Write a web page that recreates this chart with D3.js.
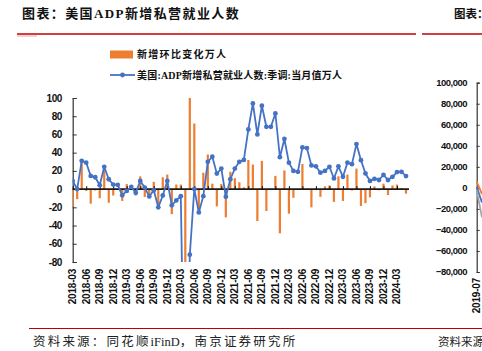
<!DOCTYPE html>
<html>
<head>
<meta charset="utf-8">
<script src="https://cdn.jsdelivr.net/npm/d3@7"></script>
<style>
  body { margin: 0; background: #fff; }
  svg { display: block; }
</style>
</head>
<body>
<div id="chart"></div>
<script>
// months 2018-03 .. 2024-05
const months = d3.timeMonth.range(new Date(2018, 2, 1), new Date(2024, 5, 1)).map(d3.timeFormat("%Y-%m"));

// 美国:ADP新增私营就业人数:季调:当月值 (万人)
const adpValues = [
  9, 0, 31, 29, 14.5, 13, 4.3, 24.5, 10.8, 5, 4.7, -6.8,
  -2, 2.5, -4, 9, 1.7, -8, -1.3, -20, -7, 9, -17.8, -12.4,
  -7.7, -300, -72, 0, -25.6, -7.7, 30, 35.5, 17, 22.5, -8.4, 10.8,
  22.5, 30, 32, 65.5, 94, 60, 91.5, 68.4, 68.4, 83, 35, 55,
  29, 20, 19, 45.8, 45, 26, 25, 18, 20, 24.5, 11.7, 25,
  13.5, 29, 27.4, 49.4, 31.8, 17.2, 9, 11.3, 10, 15.7, 10, 13.5,
  18.7, 19, 14.3
];

// 新增环比变化 (万人)
const changeValues = [
  -19, -11, 31, -2, -16, -1.5, -10, 23, -15, -7, -0.5, -13,
  5.5, 4.5, -7, 14, -8.5, -10, 8, -22, 13, 16, -27.5, 5,
  5, -292, 228, 72, -25.6, 18, 38, 6, -19, 5.5, -31, 19,
  12, 7.5, 2, 32, 27, -35, 31, -24, -1, 14.5, -48.5, 20.5,
  -27, -9.5, -1, 27.5, -1, -20, -1, -8.5, 3, 4, -14, 14,
  -13, 16, -1.6, 22.5, -18.5, -15.5, -9, 3, -1.3, 6, -6.5, 4,
  5, 1, -5
];

const yTicks = [100, 80, 60, 40, 20, 0, -20, -40, -60, -80];

// neighbouring (cut off) panel on the right
const rightMonths = ["2019-07", "2019-08"];
const rightSeries = [
  {color: "#ED7D31", values: [6000, -6000]},
  {color: "#4472C4", values: [1000, -14000]},
  {color: "#A5A5A5", values: [-2400, -28000]}
];
const rightTicks = [100000, 80000, 60000, 40000, 20000, 0, -20000, -40000, -60000, -80000];

const W = 482, H = 351;
const orange = "#ED7D31", blue = "#4472C4";
const cjk = "'Liberation Serif', 'Noto Sans CJK SC', serif";
const num = "'Liberation Sans', Arial, sans-serif";

const svg = d3.select("#chart").append("svg")
    .attr("width", W)
    .attr("height", H);

svg.append("rect").attr("width", W).attr("height", H).attr("fill", "#fff");

// title + red rules
svg.append("text")
    .attr("x", 22).attr("y", 18)
    .attr("font-family", cjk)
    .attr("font-size", 13).attr("font-weight", "bold")
    .attr("letter-spacing", 1.4)
    .attr("fill", "#111")
    .text("图表：美国ADP新增私营就业人数");

svg.append("text")
    .attr("x", 454).attr("y", 18)
    .attr("font-family", cjk)
    .attr("font-size", 11.5).attr("font-weight", "bold")
    .attr("fill", "#111")
    .text("图表：");

svg.append("line").attr("x1", 17).attr("x2", 416).attr("y1", 34).attr("y2", 34)
    .attr("stroke", "#c00000").attr("stroke-width", 1.5);
svg.append("line").attr("x1", 422).attr("x2", W).attr("y1", 34).attr("y2", 34)
    .attr("stroke", "#c00000").attr("stroke-width", 1.5);
svg.append("line").attr("x1", 17).attr("x2", 37).attr("y1", 36).attr("y2", 36)
    .attr("stroke", "#e8a6a6").attr("stroke-width", 1);

// footer
svg.append("line").attr("x1", 29).attr("x2", W).attr("y1", 328.5).attr("y2", 328.5)
    .attr("stroke", "#c00000").attr("stroke-width", 1.2);
const foot = svg.append("text")
    .attr("x", 33).attr("y", 346)
    .attr("font-family", cjk)
    .attr("font-size", 12.5)
    .attr("fill", "#222");
foot.append("tspan").attr("letter-spacing", 2.2).text("资料来源：同花顺");
foot.append("tspan").attr("letter-spacing", 0).text("iFinD");
foot.append("tspan").attr("letter-spacing", 2.2).text("，南京证券研究所");

svg.append("text")
    .attr("x", 438).attr("y", 346)
    .attr("font-family", cjk)
    .attr("font-size", 11.5)
    .attr("fill", "#222")
    .text("资料来源：");

// main chart
const plot = {left: 72.7, right: 409, top: 98, bottom: 262};

const x = d3.scalePoint()
    .domain(months)
    .range([72.7, 406]);

const y = d3.scaleLinear()
    .domain([-80, 100])
    .range([plot.bottom, plot.top]);

svg.append("clipPath").attr("id", "plotClip")
    .append("rect")
    .attr("x", plot.left).attr("y", plot.top)
    .attr("width", plot.right - plot.left)
    .attr("height", plot.bottom - plot.top);

// y axis
const yAxis = svg.append("g")
    .attr("transform", `translate(${plot.left},0)`)
    .call(d3.axisRight(y).tickValues(yTicks).tickSize(4).tickFormat(""));
yAxis.select(".domain").attr("stroke", "#333").attr("stroke-width", 1.2);
yAxis.selectAll(".tick line").attr("stroke", "#333");

svg.append("g").selectAll("text")
    .data(yTicks)
    .enter().append("text")
    .attr("x", 62)
    .attr("y", d => y(d))
    .attr("dy", "0.35em")
    .attr("text-anchor", "end")
    .attr("font-family", num)
    .attr("font-size", 10).attr("font-weight", "bold")
    .attr("letter-spacing", -0.4)
    .attr("fill", "#111")
    .text(d => d);

// bars
const bars = svg.append("g").attr("clip-path", "url(#plotClip)");
bars.selectAll("rect")
    .data(changeValues)
    .enter().append("rect")
    .attr("x", (d, i) => x(months[i]) - 1.1)
    .attr("width", 2.2)
    .attr("y", d => y(Math.max(0, d)))
    .attr("height", d => Math.abs(y(d) - y(0)))
    .attr("fill", orange);

// x axis on zero line
const labelMonths = months.filter((d, i) => i % 3 === 0);
const xAxis = svg.append("g")
    .attr("transform", `translate(0,${y(0)})`)
    .call(d3.axisTop(x).tickValues(labelMonths).tickSize(3).tickSizeOuter(0).tickFormat(""));
xAxis.select(".domain").attr("d", `M${plot.left},0H${plot.right}`)
    .attr("stroke", "#1a1a1a").attr("stroke-width", 1.6);
xAxis.selectAll(".tick line").attr("stroke", "#111").attr("stroke-width", 1);

svg.append("g").selectAll("text")
    .data(labelMonths)
    .enter().append("text")
    .attr("transform", d => `translate(${x(d)},269) rotate(-90)`)
    .attr("dy", "0.35em")
    .attr("text-anchor", "end")
    .attr("font-family", num)
    .attr("font-size", 10).attr("font-weight", "bold")
    .attr("letter-spacing", -0.2)
    .attr("fill", "#111")
    .text(d => d);

// line + markers
const lineG = svg.append("g").attr("clip-path", "url(#plotClip)");
const line = d3.line()
    .x((d, i) => x(months[i]))
    .y(d => y(d));
lineG.append("path")
    .datum(adpValues)
    .attr("d", line)
    .attr("fill", "none")
    .attr("stroke", blue)
    .attr("stroke-width", 1.8)
    .attr("stroke-linejoin", "round");
lineG.selectAll("circle")
    .data(adpValues)
    .enter().append("circle")
    .attr("cx", (d, i) => x(months[i]))
    .attr("cy", d => y(d))
    .attr("r", 2.4)
    .attr("fill", blue);

// legend
const legend = svg.append("g");
legend.append("rect")
    .attr("x", 110).attr("y", 50.5).attr("width", 23).attr("height", 8)
    .attr("fill", orange);
legend.append("text")
    .attr("x", 137).attr("y", 58)
    .attr("font-family", cjk)
    .attr("font-size", 10).attr("font-weight", "bold")
    .attr("letter-spacing", 1.3)
    .attr("fill", "#111")
    .text("新增环比变化万人");
legend.append("line")
    .attr("x1", 110).attr("x2", 135).attr("y1", 75).attr("y2", 75)
    .attr("stroke", blue).attr("stroke-width", 1.8);
legend.append("circle")
    .attr("cx", 122.5).attr("cy", 75).attr("r", 2.4)
    .attr("fill", blue);
legend.append("text")
    .attr("x", 137).attr("y", 79)
    .attr("font-family", cjk)
    .attr("font-size", 10).attr("font-weight", "bold")
    .attr("letter-spacing", 0.2)
    .attr("fill", "#111")
    .text("美国:ADP新增私营就业人数:季调:当月值万人");

// right (cut off) panel
const ry = d3.scaleLinear().domain([-80000, 100000]).range([272, 82.7]);
const rx = d3.scalePoint().domain(rightMonths).range([476.7, 482]);

const ryAxis = svg.append("g")
    .attr("transform", "translate(476.7,0)")
    .call(d3.axisRight(ry).tickValues(rightTicks).tickSize(3).tickFormat(""));
ryAxis.select(".domain").attr("stroke", "#333").attr("stroke-width", 1.2);
ryAxis.selectAll(".tick line").attr("stroke", "#333");

svg.append("g").selectAll("text")
    .data(rightTicks)
    .enter().append("text")
    .attr("x", 467)
    .attr("y", d => ry(d))
    .attr("dy", "0.35em")
    .attr("text-anchor", "end")
    .attr("font-family", num)
    .attr("font-size", 9.5).attr("font-weight", "bold")
    .attr("letter-spacing", -0.5)
    .attr("fill", "#111")
    .text(d => d3.format(",")(d));

const rLine = d3.line().x((d, i) => rx(rightMonths[i])).y(d => ry(d));
svg.append("g").selectAll("path")
    .data(rightSeries)
    .enter().append("path")
    .attr("d", d => rLine(d.values))
    .attr("fill", "none")
    .attr("stroke", d => d.color)
    .attr("stroke-width", 1.8);

svg.append("text")
    .attr("transform", `translate(${rx(rightMonths[0])},278) rotate(-90)`)
    .attr("dy", "0.35em")
    .attr("text-anchor", "end")
    .attr("font-family", num)
    .attr("font-size", 10).attr("font-weight", "bold")
    .attr("letter-spacing", -0.2)
    .attr("fill", "#111")
    .text(rightMonths[0]);
</script>
</body>
</html>
